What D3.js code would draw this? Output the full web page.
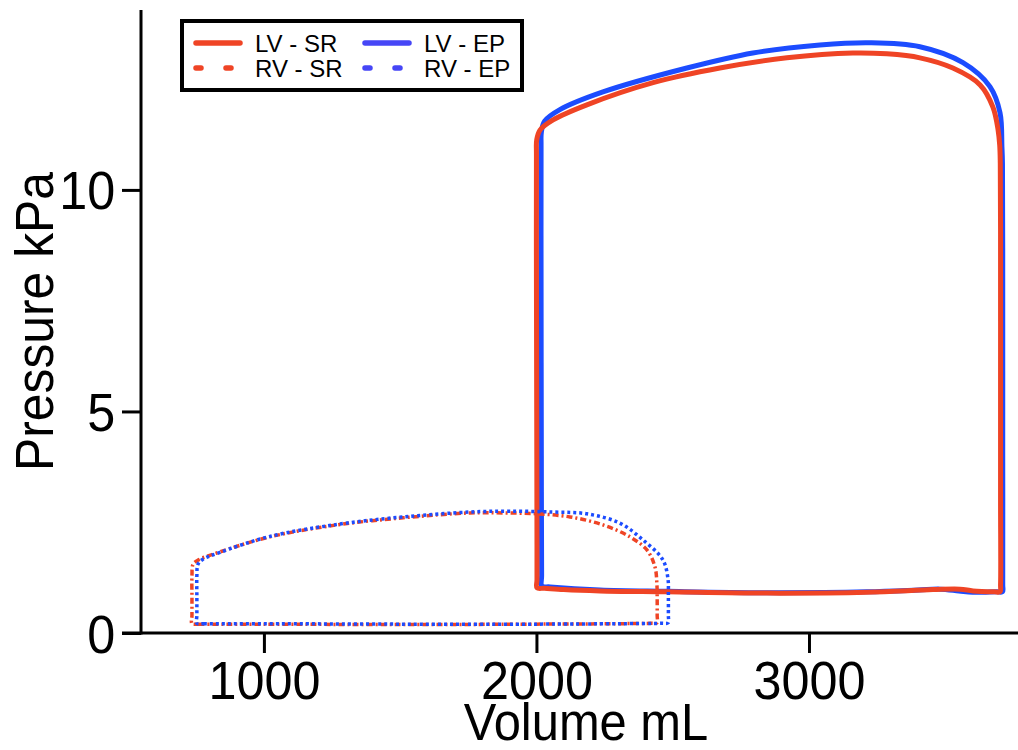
<!DOCTYPE html>
<html><head><meta charset="utf-8">
<script src="https://cdn.jsdelivr.net/npm/d3@7"></script>
<style>body{margin:0;background:#fff}svg{display:block}</style>
</head><body>
<script>
// ---- data (volume mL, pressure kPa), each loop traced: filling -> contraction -> ejection -> relaxation
const lvSrVolume   = [2002,2030,2100,2233,2479,2846,3213,3455,3554,3602,3680,3701,3703,3703,3703,3703,3702,3700,3694,3675,3628,3528,3407,3286,3161,2919,2673,2428,2185,2061,2013,2001,2000,2000,2001,2002,2002];
const lvSrPressure = [1.02,1.01,0.98,0.95,0.93,0.90,0.92,0.98,0.99,0.95,0.93,0.93,1.1,3.0,6.0,9.0,10.6,11.0,11.35,11.87,12.37,12.75,12.98,13.07,13.09,12.98,12.75,12.42,11.92,11.58,11.35,11.13,10.8,8.0,5.0,2.0,1.2];

const lvEpVolume   = [2020,2050,2233,2479,2846,3213,3400,3480,3550,3600,3690,3710,3711,3711,3711,3710,3708,3701,3664,3565,3407,3224,3040,2794,2552,2244,2086,2030,2018,2017,2017,2018,2019];
const lvEpPressure = [1.06,1.04,0.97,0.94,0.91,0.93,0.97,0.99,0.95,0.92,0.93,0.93,1.1,4.0,8.0,10.6,10.97,11.74,12.33,12.87,13.23,13.32,13.27,13.09,12.75,12.21,11.81,11.55,11.3,11.0,8.0,4.0,1.3];

const rvSrVolume   = [736,760,1000,1500,2000,2300,2420,2442,2443,2443,2442,2435,2406,2343,2244,2123,2002,1877,1756,1510,1268,1022,839,760,740,736,736,736];
const rvSrPressure = [0.21,0.20,0.20,0.19,0.20,0.21,0.22,0.23,0.4,0.8,1.1,1.49,1.87,2.17,2.44,2.62,2.69,2.71,2.71,2.60,2.44,2.17,1.83,1.65,1.55,1.3,0.8,0.4];

const rvEpVolume   = [754,780,1000,1500,2000,2300,2460,2483,2484,2484,2483,2464,2391,2306,2185,2061,1900,1756,1510,1268,1022,839,775,758,754,754,754];
const rvEpPressure = [0.22,0.21,0.21,0.20,0.20,0.21,0.22,0.23,0.4,0.9,1.2,1.65,2.10,2.48,2.69,2.73,2.75,2.73,2.62,2.45,2.18,1.82,1.66,1.55,1.3,0.8,0.4];

const xTickValues = [1000,2000,3000];
const yTickValues = [0,5,10];
const legendLabels = ["LV - SR","RV - SR","LV - EP","RV - EP"];

const RED = "#EF4425", BLUE = "#1C4CFF", LEG_BLUE = "#4646F6";
const W = 1018, H = 750;
const FONT = "'Liberation Sans', Arial, Helvetica, sans-serif";

const svg = d3.select("body").append("svg").attr("width", W).attr("height", H);

const x = d3.scaleLinear().domain([549, 3767]).range([141, 1018]);
const y = d3.scaleLinear().domain([0, 14.06]).range([633, 10]);

// axes
const gx = svg.append("g").attr("transform", "translate(0,633)")
  .call(d3.axisBottom(x).tickValues(xTickValues).tickSize(20).tickSizeOuter(0).tickFormat(d3.format("d")));
gx.select(".domain").remove();
gx.selectAll(".tick line").attr("stroke", "#000").attr("stroke-width", 3);
gx.selectAll(".tick text").attr("y", 66).attr("dy", 0).attr("fill", "#000")
  .attr("font-family", FONT).attr("font-size", 53).attr("transform", "scale(0.95,1)");

const gy = svg.append("g").attr("transform", "translate(141,0)")
  .call(d3.axisLeft(y).tickValues(yTickValues).tickSize(19).tickSizeOuter(0).tickFormat(d3.format("d")));
gy.select(".domain").remove();
gy.selectAll(".tick line").attr("stroke", "#000").attr("stroke-width", 3);
gy.selectAll(".tick text").attr("x", -27).attr("dy", "0.36em").attr("fill", "#000")
  .attr("font-family", FONT).attr("font-size", 53).attr("transform", "scale(0.95,1)");

svg.append("line").attr("x1", 141).attr("x2", 141).attr("y1", 10).attr("y2", 634.5)
  .attr("stroke", "#000").attr("stroke-width", 3);
svg.append("line").attr("x1", 122).attr("x2", 1018).attr("y1", 633).attr("y2", 633)
  .attr("stroke", "#000").attr("stroke-width", 3);

// axis titles
svg.append("text").attr("transform", "translate(586,740) scale(0.94,1)")
  .attr("text-anchor", "middle").attr("font-family", FONT).attr("font-size", 52).text("Volume mL");
svg.append("text").attr("transform", "translate(53,321.5) rotate(-90) scale(0.94,1)")
  .attr("text-anchor", "middle").attr("font-family", FONT).attr("font-size", 53).text("Pressure kPa");

// loops
const line = d3.line().x(d => x(d[0])).y(d => y(d[1])).curve(d3.curveCatmullRomClosed.alpha(0.5));
const zipPts = (v, p) => v.map((d, i) => [d, p[i]]);

const plotArea = svg.append("g");
function loop(v, p, color, width, dash) {
  plotArea.append("path").datum(zipPts(v, p)).attr("d", line)
    .attr("fill", "none").attr("stroke", color).attr("stroke-width", width)
    .attr("stroke-linejoin", "round").attr("stroke-dasharray", dash || null);
}
loop(lvEpVolume, lvEpPressure, BLUE, 5);
loop(lvSrVolume, lvSrPressure, RED, 5);
loop(rvSrVolume, rvSrPressure, RED, 3.5, "6,3,2,3");
loop(rvEpVolume, rvEpPressure, BLUE, 3.5, "3,3");

// legend
const lg = svg.append("g");
lg.append("rect").attr("x", 182).attr("y", 21).attr("width", 340).attr("height", 69)
  .attr("fill", "#fff").attr("stroke", "#000").attr("stroke-width", 4);
const entries = [
  {label: legendLabels[0], color: RED, dash: null, cx: 196, ty: 43},
  {label: legendLabels[1], color: RED, dash: "5,25", cx: 196, ty: 68},
  {label: legendLabels[2], color: LEG_BLUE, dash: null, cx: 365, ty: 43},
  {label: legendLabels[3], color: LEG_BLUE, dash: "5,25", cx: 365, ty: 68}
];
entries.forEach(e => {
  lg.append("line").attr("x1", e.cx).attr("x2", e.cx + 44).attr("y1", e.ty).attr("y2", e.ty)
    .attr("stroke", e.color).attr("stroke-width", 5.5).attr("stroke-linecap", "round")
    .attr("stroke-dasharray", e.dash);
  lg.append("text").attr("x", e.cx + 59).attr("y", e.ty + 8.5)
    .attr("font-family", FONT).attr("font-size", 24).attr("fill", "#000").text(e.label);
});
</script>
</body></html>
